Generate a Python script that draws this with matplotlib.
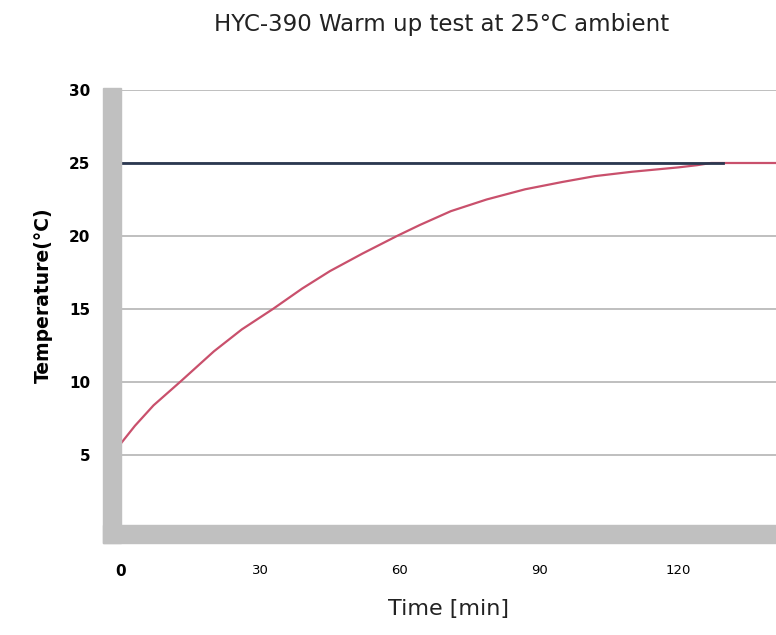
import numpy as np
import matplotlib.pyplot as plt
from matplotlib.patches import Rectangle

# warm-up readings: time [min] and temperature [degC]
time_min = [0, 3, 7, 12.7, 20, 26, 32.7, 39, 45, 52, 59.4, 64.3, 71, 78.7,
            87, 95, 102, 110, 115, 120, 124, 127, 141]
temp_c = [5.8, 7.0, 8.4, 10.0, 12.1, 13.6, 15.0, 16.4, 17.6, 18.8, 20.0, 20.75,
          21.7, 22.5, 23.2, 23.7, 24.1, 24.4, 24.55, 24.7, 24.85, 25.0, 25.0]
ambient_c = 25
ambient_end = 129.5

xticks = [0, 30, 60, 90, 120]
xlabels = ["0", "30", "60", "90", "120"]
yticks = [5, 10, 15, 20, 25, 30]

W, H = 776, 635
fig = plt.figure(figsize=(W / 100, H / 100), dpi=100)

# gray "3D" wall and floor behind the plot
wall = "#c0c0c0"
fig.patches.append(Rectangle((103 / W, 1 - 543 / H), 18 / W, 455 / H,
                             transform=fig.transFigure, color=wall, zorder=0))
fig.patches.append(Rectangle((103 / W, 1 - 543 / H), (W - 103) / W, 18 / H,
                             transform=fig.transFigure, color=wall, zorder=0))

ax = fig.add_axes([121 / W, (H - 528) / H, (W - 121) / W, 438 / H])
ax.patch.set_alpha(0)
ax.set_xlim(0, 141)
ax.set_ylim(0, 30)

for y in yticks:
    ax.axhline(y, color="#b4b4b4", lw=1.2, zorder=1)

ax.plot([0, ambient_end], [ambient_c, ambient_c], color="#2b3850", lw=2.0, zorder=3)
ax.plot(time_min, temp_c, color="#c9506c", lw=1.6, zorder=2)

for s in ax.spines.values():
    s.set_visible(False)
ax.tick_params(length=0)

ax.set_yticks(yticks)
ax.set_yticklabels([str(v) for v in yticks], fontsize=11, fontweight="bold")
ax.tick_params(axis="y", pad=22)
ax.set_xticks(xticks)
ax.set_xticklabels(xlabels, fontsize=9.5)
ax.get_xticklabels()[0].set_fontsize(11)
ax.get_xticklabels()[0].set_fontweight("bold")
ax.tick_params(axis="x", pad=26)

ax.set_xlabel("Time [min]", fontsize=16, labelpad=14, color="#222222")
fig.text(43 / W, 1 - 295 / H, "Temperature(°C)", rotation=90, ha="center",
         va="center", fontsize=13.5, fontweight="bold")
fig.text(442 / W, 1 - 25 / H, "HYC-390 Warm up test at 25°C ambient",
         ha="center", va="center", fontsize=16.5, color="#222222")

fig.savefig("out.png", dpi=100)
